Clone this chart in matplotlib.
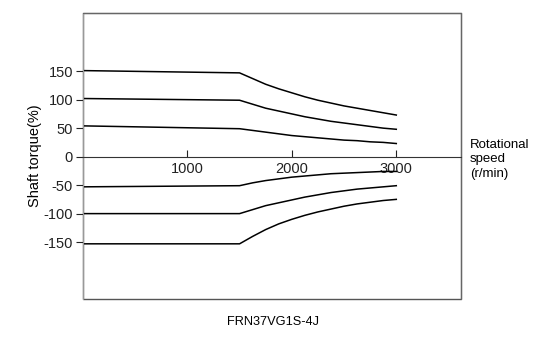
#!/usr/bin/env python3
"""
Shaft torque vs rotational speed, FRN37VG1S-4J
"""

import matplotlib
matplotlib.use('Agg')
import matplotlib.pyplot as plt
from matplotlib.patches import Rectangle

# speed points (r/min)
speed = [0, 1500, 1625, 1750, 1875, 2000, 2125, 2250, 2375, 2500, 2625, 2750, 2875, 3000]

# torque curves (%)
torque_p150 = [151, 147, 137, 127, 119, 112, 105, 99, 94, 89, 85, 81, 77, 73]
torque_p100 = [102, 99, 92, 85, 80, 75, 70, 66, 62, 59, 56, 53, 50, 48]
torque_p50 = [54, 49, 46, 43, 40, 37, 35, 33, 31, 29, 28, 26, 25, 23]
torque_m50 = [-53, -51, -46, -42, -39, -36, -34, -32, -30, -29, -28, -27, -26, -26]
torque_m100 = [-100, -100, -93, -86, -81, -76, -71, -67, -63, -60, -57, -55, -53, -51]
torque_m150 = [-153, -153, -140, -128, -118, -110, -103, -97, -92, -87, -83, -80, -77, -75]

x_ticks = [1000, 2000, 3000]
y_ticks = [-150, -100, -50, 0, 50, 100, 150]

plt.rcParams['font.family'] = ['Liberation Sans', 'DejaVu Sans']
plt.rcParams['axes.unicode_minus'] = False

fig = plt.figure(figsize=(5.45, 3.43), dpi=100)
ax = fig.add_axes([0.152, 0.128, 0.694, 0.834])

for t in [torque_p150, torque_p100, torque_p50, torque_m50, torque_m100, torque_m150]:
    ax.plot(speed, t, color='black', linewidth=1.1)

ax.set_xlim(0, 3620)
ax.set_ylim(-250, 252)

# box around the plot, x axis sits on zero
ax.add_patch(Rectangle((0, 0), 1, 1, transform=ax.transAxes, fill=False,
                       edgecolor='#555555', linewidth=1.0, clip_on=False))
ax.spines['bottom'].set_position(('data', 0))
ax.spines['bottom'].set_color('#333333')
for s in ['top', 'right', 'left']:
    ax.spines[s].set_color('#666666')
ax.spines['left'].set_color('#999999')

ax.set_xticks(x_ticks)
ax.set_yticks(y_ticks)
ax.tick_params(axis='x', direction='in', length=5, width=0.8, labelsize=10.5,
               pad=4, colors='#222222')
ax.tick_params(axis='y', direction='out', length=5, width=0.8, labelsize=10.5,
               pad=2, colors='#222222')

ax.set_ylabel('Shaft torque(%)', fontsize=10.5)
ax.yaxis.set_label_coords(-0.108, 0.5)

fig.text(0.862, 0.535, 'Rotational\nspeed\n(r/min)', fontsize=9.5,
         ha='left', va='center', linespacing=1.3)
fig.text(0.5, 0.061, 'FRN37VG1S-4J', fontsize=9.2, ha='center', va='center')

plt.savefig('out.png', dpi=100)
